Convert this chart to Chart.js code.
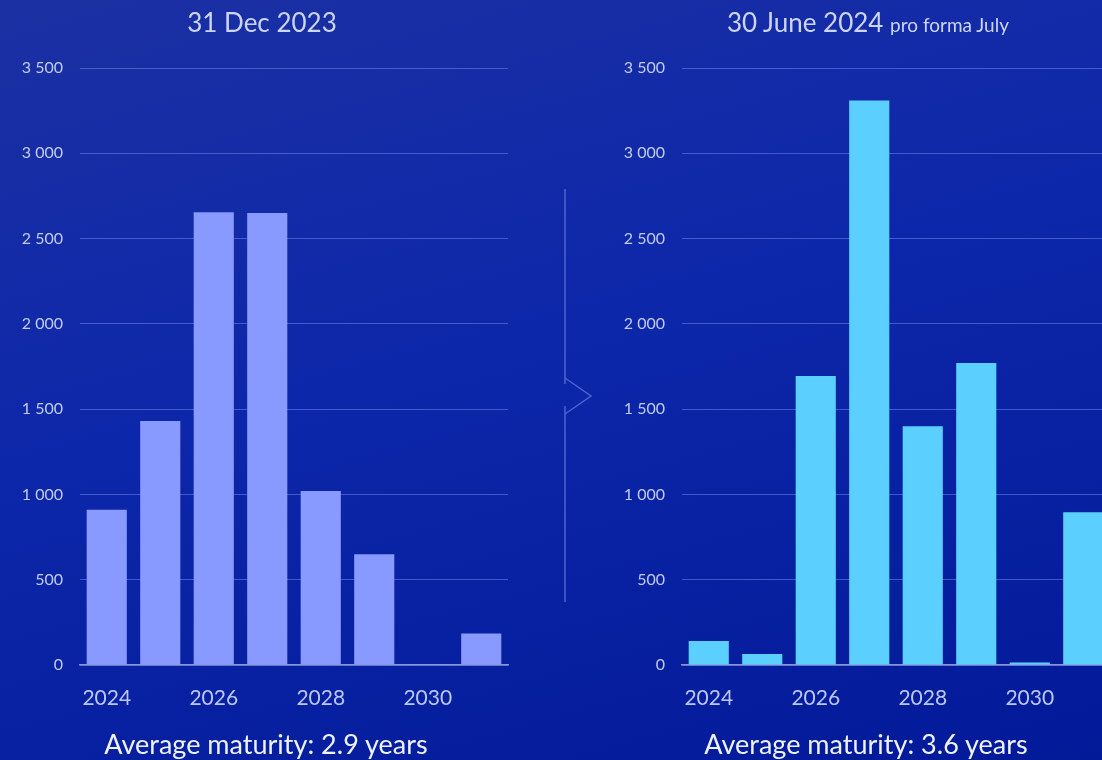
<!DOCTYPE html>
<html>
<head>
<meta charset="utf-8">
<script src="https://cdn.jsdelivr.net/npm/chart.js@4.4.1/dist/chart.umd.min.js"></script>
<style>
  html, body { margin: 0; padding: 0; }
  body {
    width: 1102px; height: 760px; overflow: hidden; position: relative;
    background: linear-gradient(165deg, #1b30a2 0%, #0d27aa 45%, #021a98 100%);
    font-family: Lato, "Open Sans", sans-serif;
  }
  .box { position: absolute; top: 0; width: 520px; height: 760px; }
  .title { position: absolute; top: 9px; transform: translateX(-50%); white-space: nowrap;
    color: #cdd5f7; font-size: 26px; line-height: 1; }
  .title small { font-size: 19px; }
  .avg { position: absolute; top: 730px; transform: translateX(-50%); white-space: nowrap;
    color: #eef2ff; font-size: 27px; line-height: 1; }
  svg { position: absolute; left: 0; top: 0; }
</style>
</head>
<body>
<div class="box" style="left:0"><canvas id="before"></canvas></div>
<div class="box" style="left:602px"><canvas id="after"></canvas></div>

<div class="title" style="left:262px">31 Dec 2023</div>
<div class="title" style="left:868px">30 June 2024 <small>pro forma July</small></div>
<div class="avg" style="left:266px">Average maturity: 2.9 years</div>
<div class="avg" style="left:866px">Average maturity: 3.6 years</div>

<svg width="1102" height="760">
  <g stroke="#4c64d2" stroke-width="1.5" fill="none">
    <line x1="565" y1="189" x2="565" y2="384" />
    <polyline points="565,378 591,396 565,414" />
    <line x1="565" y1="406" x2="565" y2="602" />
  </g>
</svg>

<script>
// maturity years
const years = ["2024", "2025", "2026", "2027", "2028", "2029", "2030", "2031"];
// debt maturing per year, 31 Dec 2023
const dec2023 = [910, 1430, 2655, 2650, 1020, 650, 5, 185];
// debt maturing per year, 30 June 2024 pro forma July
const jun2024 = [140, 65, 1695, 3310, 1400, 1770, 15, 895];

const yMax = 3500;
const yStep = 500;

function fmt(v) {
  return String(v).replace(/\B(?=(\d{3})+(?!\d))/g, " ");
}

function makeChart(id, values, color) {
  return new Chart(document.getElementById(id), {
    type: "bar",
    data: {
      labels: years,
      datasets: [
        {
          data: values,
          backgroundColor: color,
          borderWidth: 0,
          barPercentage: 0.75,
          categoryPercentage: 1,
        },
      ],
    },
    options: {
      responsive: true,
      maintainAspectRatio: false,
      animation: false,
      layout: {
        padding: { top: 68, bottom: 50, left: 0, right: 12 },
      },
      plugins: {
        legend: { display: false },
        tooltip: { enabled: false },
      },
      scales: {
        x: {
          grid: { display: false },
          border: { display: true, color: "#8a96d6", width: 1.5 },
          ticks: {
            color: "#bcc7f8",
            font: { family: "Lato", size: 21 },
            padding: 13,
            autoSkip: false,
            maxRotation: 0,
            callback: function (v, i) {
              return i % 2 === 0 ? this.getLabelForValue(v) : "";
            },
          },
          afterFit: (s) => {
            s.height = 45;
          },
        },
        y: {
          min: 0,
          max: yMax,
          border: { display: false },
          grid: { color: "rgba(110,135,235,0.55)", drawTicks: false },
          ticks: {
            stepSize: yStep,
            color: "#c3cbf2",
            font: { family: "Lato", size: 16 },
            padding: 17,
            callback: (v) => fmt(v),
          },
          afterFit: (s) => {
            s.width = 80;
          },
        },
      },
    },
  });
}

makeChart("before", dec2023, "#8899ff");
makeChart("after", jun2024, "#5bd0ff");
</script>
</body>
</html>
